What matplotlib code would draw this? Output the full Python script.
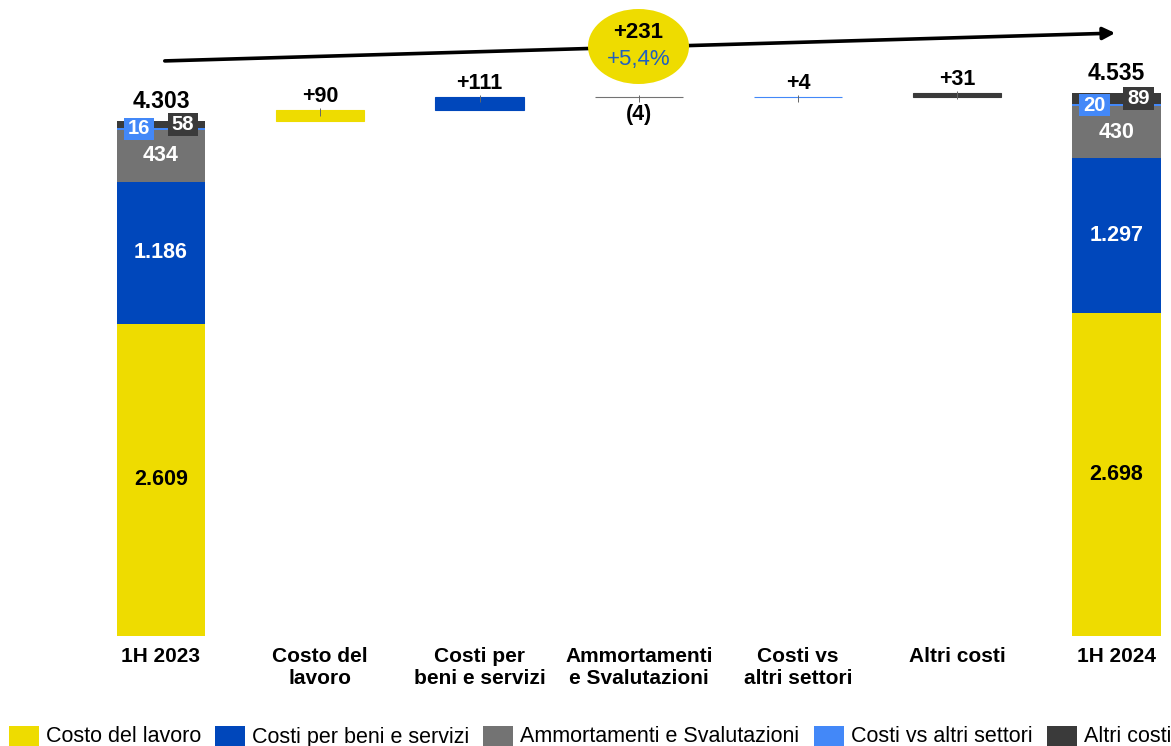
import matplotlib
matplotlib.use("Agg")
import matplotlib.pyplot as plt
from matplotlib.patches import Ellipse, Rectangle, FancyArrowPatch

plt.rcParams['font.family'] = ['Liberation Sans', 'DejaVu Sans']

# ---------------- data ----------------
categories = ["1H 2023", "Costo del\nlavoro", "Costi per\nbeni e servizi",
              "Ammortamenti\ne Svalutazioni", "Costi vs\naltri settori",
              "Altri costi", "1H 2024"]
components = ["Costo del lavoro", "Costi per beni e servizi",
              "Ammortamenti e Svalutazioni", "Costi vs altri settori", "Altri costi"]
values_2023 = [2609, 1186, 434, 16, 58]
values_2024 = [2698, 1297, 430, 20, 89]
deltas = [90, 111, -4, 4, 31]
total_2023 = 4303
total_2024 = 4535
change_abs = "+231"
change_pct = "+5,4%"

colors = ["#EEDC00", "#0047BB", "#737373", "#4388F8", "#3A3A3A"]
text_colors = ["black", "white", "white", "white", "white"]

W, H = 1171, 746
fig = plt.figure(figsize=(W / 100, H / 100), dpi=100)


def px(x, y):
    return (x / W, 1 - y / H)


ax = fig.add_axes([0, 110 / H, 1, 636 / H])
ax.set_xlim(-161 / 159.25, (W - 161) / 159.25)
ax.set_ylim(0, 636 / 0.1197)
for s in ax.spines.values():
    s.set_visible(False)
ax.set_yticks([])
ax.set_xticks(range(len(categories)))
ax.set_xticklabels(categories, fontweight='bold', fontsize=15)
ax.tick_params(axis='x', length=0, pad=8)

bw = 0.553


def fmt(v):
    return f"{v:,}".replace(",", ".")


def stacked(xpos, vals, total):
    bottom = 0
    for i, v in enumerate(vals):
        ax.bar(xpos, v, bottom=bottom, width=bw, color=colors[i], linewidth=0)
        mid = bottom + v / 2
        if i < 3:
            ax.text(xpos, mid, fmt(v), ha='center', va='center', fontsize=15.5,
                    fontweight='bold', color=text_colors[i])
        else:
            dx = -bw / 4 if i == 3 else bw / 4
            ax.text(xpos + dx, mid, fmt(v), ha='center', va='center', fontsize=14.5,
                    fontweight='bold', color='white', zorder=5,
                    bbox=dict(boxstyle='square,pad=0.2', fc=colors[i], ec='none',
                              mutation_aspect=0.45))
        bottom += v
    ax.annotate(fmt(total), xy=(xpos, bottom), xytext=(0, 9.5),
                textcoords='offset points', ha='center', va='baseline',
                fontsize=16.5, fontweight='bold')


stacked(0, values_2023, total_2023)

running = total_2023
for j, d in enumerate(deltas):
    xpos = j + 1
    b = running if d > 0 else running + d
    ax.bar(xpos, abs(d), bottom=b, width=bw, color=colors[j],
           edgecolor=colors[j], linewidth=0.8)
    top = b + abs(d)
    ax.vlines(xpos, top - 45, top + 17, color='#666666', lw=0.7, zorder=4)
    if d > 0:
        ax.annotate(f"+{d}", xy=(xpos, top), xytext=(0, 6),
                    textcoords='offset points', ha='center', va='baseline',
                    fontsize=15.5, fontweight='bold')
    else:
        ax.annotate(f"({abs(d)})", xy=(xpos, b), xytext=(0, -4.5),
                    textcoords='offset points', ha='center', va='top',
                    fontsize=15.5, fontweight='bold')
    running += d

stacked(6, values_2024, total_2024)

# arrow and bubble
arrow = FancyArrowPatch(posA=px(162, 61), posB=px(1118, 33),
                        transform=fig.transFigure, arrowstyle='-|>',
                        mutation_scale=18, lw=2.6, color='black', zorder=3)
fig.add_artist(arrow)
ell = Ellipse(px(638.5, 46.5), 101 / W, 75 / H, transform=fig.transFigure,
              facecolor=colors[0], edgecolor='none', zorder=4)
fig.add_artist(ell)
fig.text(*px(638.5, 33), change_abs, ha='center', va='center', fontsize=16,
         fontweight='bold', zorder=5)
fig.text(*px(638.5, 60), change_pct, ha='center', va='center', fontsize=16,
         color='#1F5FC0', zorder=5)

# legend
patch_x = [9, 215, 483, 814, 1047]
for i, name in enumerate(components):
    r = Rectangle(px(patch_x[i], 750), 30 / W, 24 / H, transform=fig.transFigure,
                  facecolor=colors[i], edgecolor='none')
    fig.add_artist(r)
    fig.text(*px(patch_x[i] + 37, 737), name, ha='left', va='center',
             fontsize=15.5)

fig.savefig("out.png", dpi=100)
